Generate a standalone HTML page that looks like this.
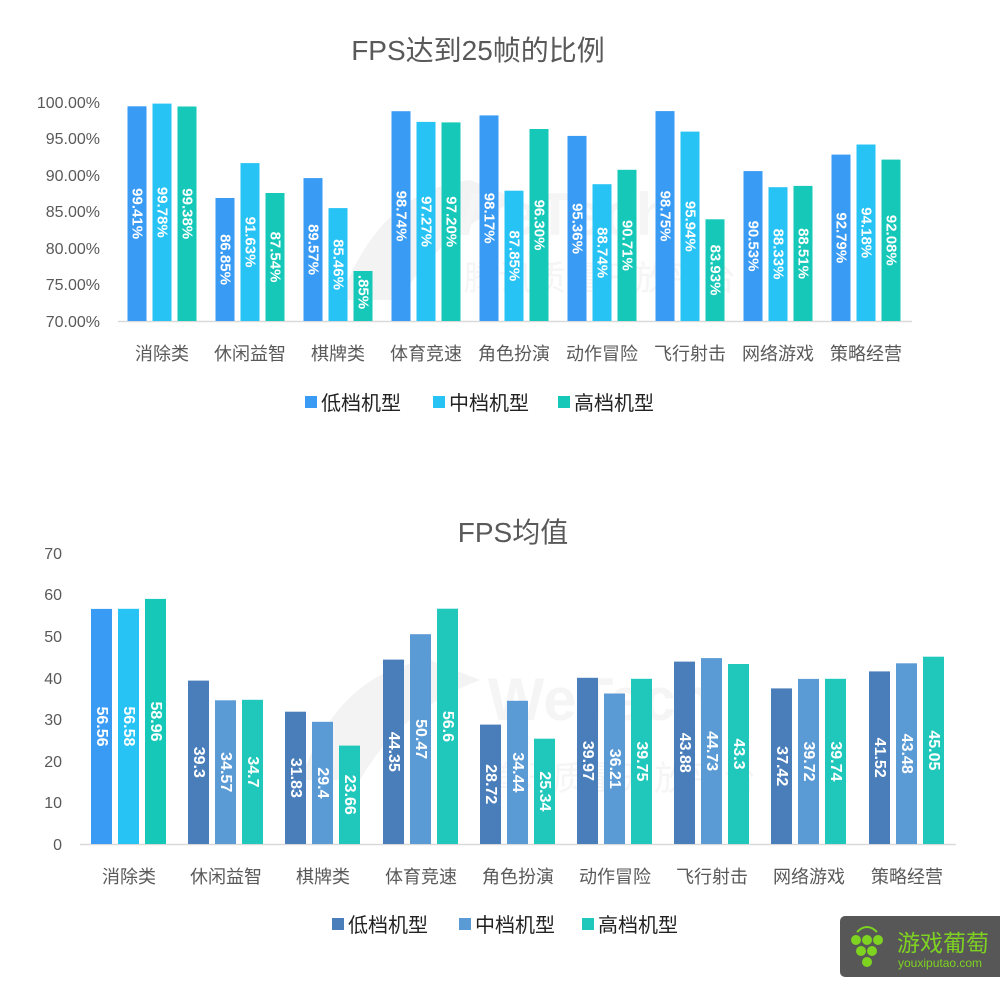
<!DOCTYPE html>
<html><head><meta charset="utf-8"><style>
html,body{margin:0;padding:0;background:#fff;}
svg{display:block;font-family:"Liberation Sans","Noto Sans CJK SC",sans-serif;}
.t{fill:#595959;font-size:16px;}
.c{fill:#595959;font-size:18px;text-anchor:middle;}
.l{fill:#fff;font-size:15px;font-weight:bold;text-anchor:middle;dominant-baseline:central;}
.lg{fill:#222;font-size:20px;}
</style></head><body>
<svg width="1000" height="985" viewBox="0 0 1000 985">
<rect width="1000" height="985" fill="#fff"/>
<!-- watermark -->
<g fill="#f3f3f3">
<path d="M340 300 Q380 190 470 180 L520 200 Q440 230 400 300 Z"/>
<text x="560" y="235" font-size="60" font-weight="bold" fill="#f5f5f5" text-anchor="middle">WeTech</text>
<text x="600" y="290" font-size="34" fill="#f5f5f5" text-anchor="middle">腾讯质量开放平台</text>
<path d="M300 780 Q340 670 430 660 L480 680 Q400 710 360 780 Z"/>
<text x="600" y="720" font-size="60" font-weight="bold" fill="#f5f5f5" text-anchor="middle">WeTech</text>
<text x="620" y="790" font-size="34" fill="#f5f5f5" text-anchor="middle">腾讯质量开放平台</text>
</g>

<!-- Chart 1 -->
<text x="478" y="60" font-size="28" fill="#595959" text-anchor="middle">FPS达到25帧的比例</text>
<g class="t" text-anchor="end">
<text x="100" y="108">100.00%</text><text x="100" y="144">95.00%</text><text x="100" y="181">90.00%</text>
<text x="100" y="217">85.00%</text><text x="100" y="254">80.00%</text><text x="100" y="290">75.00%</text><text x="100" y="327">70.00%</text>
</g>
<line x1="118" y1="321.5" x2="912" y2="321.5" stroke="#d9d9d9" stroke-width="1.5"/>
<g>
<rect x="127.5" y="106.3" width="19" height="214.7" fill="#3a9bf5"/><rect x="152.5" y="103.6" width="19" height="217.4" fill="#27c3f5"/><rect x="177.5" y="106.5" width="19" height="214.5" fill="#16c8b8"/>
<rect x="215.5" y="198" width="19" height="123" fill="#3a9bf5"/><rect x="240.5" y="163.1" width="19" height="157.9" fill="#27c3f5"/><rect x="265.5" y="193" width="19" height="128" fill="#16c8b8"/>
<rect x="303.5" y="178.1" width="19" height="142.9" fill="#3a9bf5"/><rect x="328.5" y="208.1" width="19" height="112.9" fill="#27c3f5"/><rect x="353.5" y="271" width="19" height="50" fill="#16c8b8"/>
<rect x="391.5" y="111.2" width="19" height="209.8" fill="#3a9bf5"/><rect x="416.5" y="121.9" width="19" height="199.1" fill="#27c3f5"/><rect x="441.5" y="122.4" width="19" height="198.6" fill="#16c8b8"/>
<rect x="479.5" y="115.4" width="19" height="205.6" fill="#3a9bf5"/><rect x="504.5" y="190.7" width="19" height="130.3" fill="#27c3f5"/><rect x="529.5" y="129" width="19" height="192" fill="#16c8b8"/>
<rect x="567.5" y="135.9" width="19" height="185.1" fill="#3a9bf5"/><rect x="592.5" y="184.2" width="19" height="136.8" fill="#27c3f5"/><rect x="617.5" y="169.8" width="19" height="151.2" fill="#16c8b8"/>
<rect x="655.5" y="111.1" width="19" height="209.9" fill="#3a9bf5"/><rect x="680.5" y="131.6" width="19" height="189.4" fill="#27c3f5"/><rect x="705.5" y="219.3" width="19" height="101.7" fill="#16c8b8"/>
<rect x="743.5" y="171.1" width="19" height="149.9" fill="#3a9bf5"/><rect x="768.5" y="187.2" width="19" height="133.8" fill="#27c3f5"/><rect x="793.5" y="185.9" width="19" height="135.1" fill="#16c8b8"/>
<rect x="831.5" y="154.6" width="19" height="166.4" fill="#3a9bf5"/><rect x="856.5" y="144.5" width="19" height="176.5" fill="#27c3f5"/><rect x="881.5" y="159.6" width="19" height="161.4" fill="#16c8b8"/>
</g>
<g class="l">
<text transform="translate(137,213.6) rotate(90)">99.41%</text><text transform="translate(162,212.3) rotate(90)">99.78%</text><text transform="translate(187,213.7) rotate(90)">99.38%</text>
<text transform="translate(225,259.5) rotate(90)">86.85%</text><text transform="translate(250,242) rotate(90)">91.63%</text><text transform="translate(275,257) rotate(90)">87.54%</text>
<text transform="translate(313,249.5) rotate(90)">89.57%</text><text transform="translate(338,264.5) rotate(90)">85.46%</text><text transform="translate(363,292) rotate(90)">.85%</text>
<text transform="translate(401,216) rotate(90)">98.74%</text><text transform="translate(426,221.5) rotate(90)">97.27%</text><text transform="translate(451,221.7) rotate(90)">97.20%</text>
<text transform="translate(489,218.2) rotate(90)">98.17%</text><text transform="translate(514,255.8) rotate(90)">87.85%</text><text transform="translate(539,225) rotate(90)">96.30%</text>
<text transform="translate(577,228.5) rotate(90)">95.36%</text><text transform="translate(602,252.6) rotate(90)">88.74%</text><text transform="translate(627,245.4) rotate(90)">90.71%</text>
<text transform="translate(665,216) rotate(90)">98.75%</text><text transform="translate(690,226.3) rotate(90)">95.94%</text><text transform="translate(715,270) rotate(90)">83.93%</text>
<text transform="translate(753,246) rotate(90)">90.53%</text><text transform="translate(778,254) rotate(90)">88.33%</text><text transform="translate(803,253.5) rotate(90)">88.51%</text>
<text transform="translate(841,237.8) rotate(90)">92.79%</text><text transform="translate(866,232.7) rotate(90)">94.18%</text><text transform="translate(891,240.3) rotate(90)">92.08%</text>
</g>
<g class="c">
<text x="162" y="360">消除类</text><text x="250" y="360">休闲益智</text><text x="338" y="360">棋牌类</text><text x="426" y="360">体育竞速</text><text x="514" y="360">角色扮演</text>
<text x="602" y="360">动作冒险</text><text x="690" y="360">飞行射击</text><text x="778" y="360">网络游戏</text><text x="866" y="360">策略经营</text>
</g>
<rect x="305" y="396" width="12" height="12" fill="#3a9bf5"/><text class="lg" x="321" y="410">低档机型</text>
<rect x="433" y="396" width="12" height="12" fill="#27c3f5"/><text class="lg" x="449" y="410">中档机型</text>
<rect x="558" y="396" width="12" height="12" fill="#16c8b8"/><text class="lg" x="574" y="410">高档机型</text>

<!-- Chart 2 -->
<text x="513" y="542" font-size="28" fill="#595959" text-anchor="middle">FPS均值</text>
<g class="t" text-anchor="end">
<text x="62" y="559">70</text><text x="62" y="600">60</text><text x="62" y="642">50</text><text x="62" y="684">40</text>
<text x="62" y="725">30</text><text x="62" y="767">20</text><text x="62" y="808">10</text><text x="62" y="850">0</text>
</g>
<line x1="80" y1="844.5" x2="956" y2="844.5" stroke="#d9d9d9" stroke-width="1.5"/>
<g>
<rect x="91" y="608.9" width="21" height="235.1" fill="#3a9bf5"/><rect x="118" y="608.8" width="21" height="235.2" fill="#27c3f5"/><rect x="145" y="598.9" width="21" height="245.1" fill="#16c8b8"/>
<rect x="188" y="680.6" width="21" height="163.4" fill="#4a7ebb"/><rect x="215" y="700.3" width="21" height="143.7" fill="#5b9bd5"/><rect x="242" y="699.8" width="21" height="144.2" fill="#1fc8bb"/>
<rect x="285" y="711.7" width="21" height="132.3" fill="#4a7ebb"/><rect x="312" y="721.8" width="21" height="122.2" fill="#5b9bd5"/><rect x="339" y="745.6" width="21" height="98.4" fill="#1fc8bb"/>
<rect x="383" y="659.6" width="21" height="184.4" fill="#4a7ebb"/><rect x="410" y="634.2" width="21" height="209.8" fill="#5b9bd5"/><rect x="437" y="608.7" width="21" height="235.3" fill="#1fc8bb"/>
<rect x="480" y="724.6" width="21" height="119.4" fill="#4a7ebb"/><rect x="507" y="700.8" width="21" height="143.2" fill="#5b9bd5"/><rect x="534" y="738.7" width="21" height="105.3" fill="#1fc8bb"/>
<rect x="577" y="677.8" width="21" height="166.2" fill="#4a7ebb"/><rect x="604" y="693.5" width="21" height="150.5" fill="#5b9bd5"/><rect x="631" y="678.8" width="21" height="165.2" fill="#1fc8bb"/>
<rect x="674" y="661.6" width="21" height="182.4" fill="#4a7ebb"/><rect x="701" y="658.1" width="21" height="185.9" fill="#5b9bd5"/><rect x="728" y="664" width="21" height="180" fill="#1fc8bb"/>
<rect x="771" y="688.4" width="21" height="155.6" fill="#4a7ebb"/><rect x="798" y="678.9" width="21" height="165.1" fill="#5b9bd5"/><rect x="825" y="678.8" width="21" height="165.2" fill="#1fc8bb"/>
<rect x="869" y="671.4" width="21" height="172.6" fill="#4a7ebb"/><rect x="896" y="663.3" width="21" height="180.7" fill="#5b9bd5"/><rect x="923" y="656.7" width="21" height="187.3" fill="#1fc8bb"/>
</g>
<g class="l" style="font-size:16px">
<text transform="translate(101.5,726.5) rotate(90)">56.56</text><text transform="translate(128.5,726.4) rotate(90)">56.58</text><text transform="translate(155.5,721.5) rotate(90)">58.96</text>
<text transform="translate(198.5,762.3) rotate(90)">39.3</text><text transform="translate(225.5,772.2) rotate(90)">34.57</text><text transform="translate(252.5,771.9) rotate(90)">34.7</text>
<text transform="translate(295.5,777.9) rotate(90)">31.83</text><text transform="translate(322.5,782.9) rotate(90)">29.4</text><text transform="translate(349.5,794.8) rotate(90)">23.66</text>
<text transform="translate(393.5,751.8) rotate(90)">44.35</text><text transform="translate(420.5,739.1) rotate(90)">50.47</text><text transform="translate(447.5,726.4) rotate(90)">56.6</text>
<text transform="translate(490.5,784.3) rotate(90)">28.72</text><text transform="translate(517.5,772.4) rotate(90)">34.44</text><text transform="translate(544.5,791.4) rotate(90)">25.34</text>
<text transform="translate(587.5,760.9) rotate(90)">39.97</text><text transform="translate(614.5,768.8) rotate(90)">36.21</text><text transform="translate(641.5,761.4) rotate(90)">39.75</text>
<text transform="translate(684.5,752.8) rotate(90)">43.88</text><text transform="translate(711.5,751.1) rotate(90)">44.73</text><text transform="translate(738.5,754) rotate(90)">43.3</text>
<text transform="translate(781.5,766.2) rotate(90)">37.42</text><text transform="translate(808.5,761.5) rotate(90)">39.72</text><text transform="translate(835.5,761.4) rotate(90)">39.74</text>
<text transform="translate(879.5,757.7) rotate(90)">41.52</text><text transform="translate(906.5,753.7) rotate(90)">43.48</text><text transform="translate(933.5,750.4) rotate(90)">45.05</text>
</g>
<g class="c">
<text x="129" y="883">消除类</text><text x="226" y="883">休闲益智</text><text x="323" y="883">棋牌类</text><text x="421" y="883">体育竞速</text><text x="518" y="883">角色扮演</text>
<text x="615" y="883">动作冒险</text><text x="712" y="883">飞行射击</text><text x="809" y="883">网络游戏</text><text x="907" y="883">策略经营</text>
</g>
<rect x="332" y="918" width="12" height="12" fill="#4a7ebb"/><text class="lg" x="348" y="932">低档机型</text>
<rect x="459" y="918" width="12" height="12" fill="#5b9bd5"/><text class="lg" x="475" y="932">中档机型</text>
<rect x="582" y="918" width="12" height="12" fill="#1fc8bb"/><text class="lg" x="598" y="932">高档机型</text>

<!-- logo -->
<rect x="840" y="916" width="170" height="61" rx="5" fill="#575757"/>
<g fill="#7ed321">
<circle cx="856" cy="940" r="5"/><circle cx="867" cy="940" r="5"/><circle cx="878" cy="940" r="5"/>
<circle cx="861" cy="951" r="5"/><circle cx="872" cy="951" r="5"/><circle cx="867" cy="962" r="5"/>
</g>
<path d="M857 932 Q867 922 877 932" stroke="#7ed321" stroke-width="2" fill="none"/>
<text x="897" y="951" font-size="23" fill="#7ed321">游戏葡萄</text>
<text x="898" y="967" font-size="12" fill="#7ed321">youxiputao.com</text>
</svg>
</body></html>
